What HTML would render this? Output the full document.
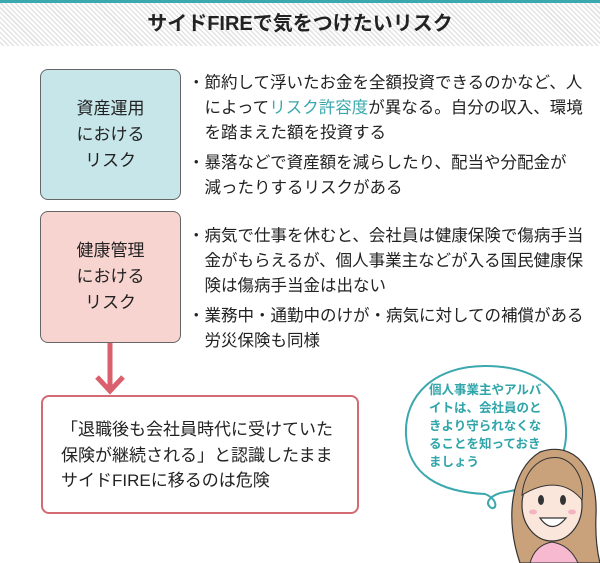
<!DOCTYPE html>
<html><head><meta charset="utf-8"><style>
body{margin:0;width:600px;height:563px;background:#fff;position:relative;overflow:hidden;font-family:"Liberation Sans","Noto Sans CJK JP",sans-serif;color:#222}
.hdr{position:absolute;left:0;top:0;width:600px;height:46px;border-top:3px solid #3aa8ad;box-sizing:border-box;background:repeating-linear-gradient(45deg,#fff 0 2px,#e3e3e3 2px 3.5px)}
.hdr div{text-align:center;font-weight:bold;font-size:20px;line-height:42px;color:#222}
.box{position:absolute;border:1.5px solid #666;border-radius:8px;box-sizing:border-box;display:flex;align-items:center;justify-content:center;text-align:center;font-size:17px;line-height:26px}
.t{position:absolute;left:188px;font-size:16.5px;line-height:25px;white-space:nowrap}
.b{color:#3aa8ad}
.bt{position:absolute;left:41px;top:395px;width:318px;height:119px;border:2px solid #d36a74;border-radius:8px;box-sizing:border-box;padding:20px 0 0 18px;font-size:17px;line-height:25.5px}
.sp{position:absolute;left:429px;top:381px;font-size:12.5px;line-height:18px;color:#2fa5aa;font-weight:bold;white-space:nowrap}
</style></head><body>
<div class="hdr"><div>サイドFIREで気をつけたいリスク</div></div>
<div class="box" style="left:40px;top:69px;width:141px;height:131px;background:#c6e6e9">資産運用<br>における<br>リスク</div>
<div class="box" style="left:40px;top:211px;width:141px;height:132px;background:#f8d4d1">健康管理<br>における<br>リスク</div>
<div class="t" style="top:71px">・節約して浮いたお金を全額投資できるのかなど、人<br>　によって<span class="b">リスク許容度</span>が異なる。自分の収入、環境<br>　を踏まえた額を投資する</div>
<div class="t" style="top:151px">・暴落などで資産額を減らしたり、配当や分配金が<br>　減ったりするリスクがある</div>
<div class="t" style="top:224px">・病気で仕事を休むと、会社員は健康保険で傷病手当<br>　金がもらえるが、個人事業主などが入る国民健康保<br>　険は傷病手当金は出ない</div>
<div class="t" style="top:304px">・業務中・通勤中のけが・病気に対しての補償がある<br>　労災保険も同様</div>
<svg width="600" height="563" style="position:absolute;left:0;top:0">
<line x1="110" y1="343" x2="110" y2="390" stroke="#d9606c" stroke-width="5"/>
<polyline points="97,377 110,391 123,377" fill="none" stroke="#d9606c" stroke-width="5"/>
<path d="M485,366 C435,366 404,395 406,435 C408,475 440,492 485,494 C500,500 496,512 490,507 C484,502 492,494 505,492 C545,486 568,465 566,428 C564,388 535,366 485,366 Z" fill="#fff" stroke="#3aa8ad" stroke-width="2"/>
<path d="M520,563 C505,520 510,470 540,452 C575,440 598,470 596,515 C595,540 598,555 600,563 Z" fill="#c9a27c" stroke="#333" stroke-width="1.2"/>
<ellipse cx="552" cy="505" rx="30" ry="36" fill="#fbe6dc" stroke="#333" stroke-width="1.2"/>
<path d="M522,495 C525,465 545,455 560,458 C575,462 585,480 582,500 C570,485 550,478 522,495 Z" fill="#c9a27c" stroke="#333" stroke-width="1"/>
<ellipse cx="541" cy="500" rx="3" ry="5" fill="#333"/><ellipse cx="563" cy="500" rx="3" ry="5" fill="#333"/>
<path d="M540,518 Q552,535 566,518 Z" fill="#fff" stroke="#333" stroke-width="1.2"/>
<ellipse cx="533" cy="512" rx="4" ry="2.5" fill="#f4b4bf"/><ellipse cx="572" cy="512" rx="4" ry="2.5" fill="#f4b4bf"/>
<path d="M530,563 Q535,545 552,542 Q570,545 578,563 Z" fill="#f6b9d0" stroke="#333" stroke-width="1"/>
</svg>
<div class="bt">「退職後も会社員時代に受けていた<br>保険が継続される」と認識したまま<br>サイドFIREに移るのは危険</div>
<div class="sp">個人事業主やアルバ<br>イトは、会社員のと<br>きより守られなくな<br>ることを知っておき<br>ましょう</div>
</body></html>
